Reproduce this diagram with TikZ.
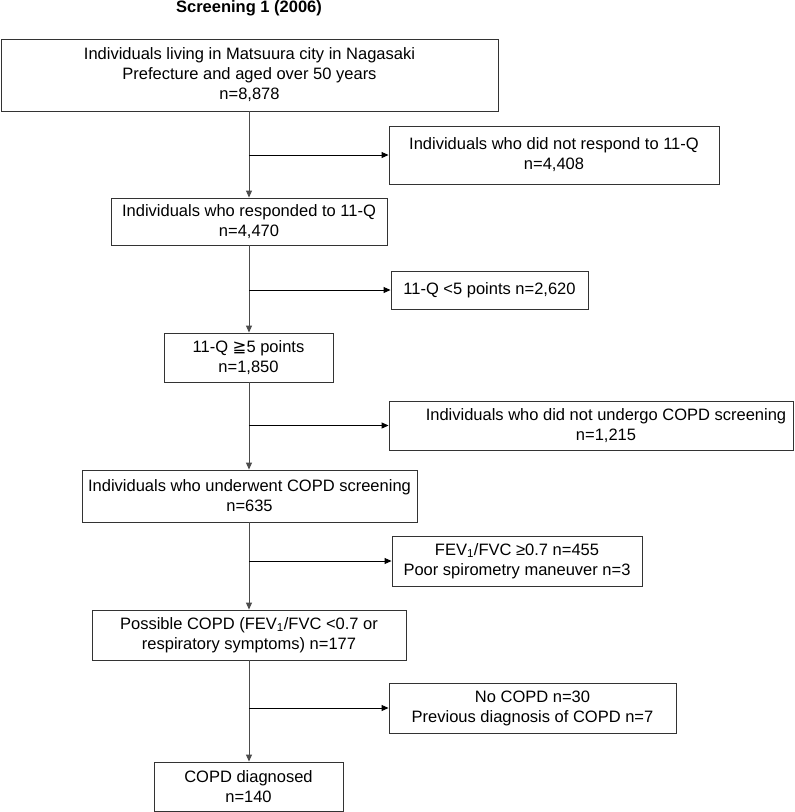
\documentclass[tikz,border=0pt]{standalone}
\usepackage{fontspec}
\setmainfont{Liberation Sans}
\newfontfamily\symfont{DejaVu Sans}
\usetikzlibrary{arrows.meta}
\begin{document}
\begin{tikzpicture}[x=1pt,y=-1pt,
  box/.style={draw=black!80,line width=0.9pt,inner sep=0pt,align=center,
    font=\fontsize{16.5}{20}\selectfont},
  txt/.style={inner sep=0pt,align=center,font=\fontsize{16.5}{20}\selectfont},
  vline/.style={draw=black!70,line width=0.9pt,-{Triangle[length=7pt,width=6pt]}},
  bline/.style={draw=black,line width=0.9pt,-{Triangle[length=7pt,width=6pt]}}]
\useasboundingbox (0,0) rectangle (795,812);
\node[txt,font=\fontsize{16.5}{20}\selectfont\bfseries] (title) at (249,8) {Screening 1 (2006)};
\node[box,minimum width=497pt,minimum height=72pt] (b1) at (249.5,75)
  {Individuals living in Matsuura city in Nagasaki\\Prefecture and aged over 50 years\\n=8,878};
\node[box,minimum width=330pt,minimum height=58pt] (r1) at (554,155)
  {Individuals who did not respond to 11-Q\\n=4,408};
\node[box,minimum width=276pt,minimum height=47pt] (b2) at (249,221.5)
  {Individuals who responded to 11-Q\\n=4,470};
\node[box,minimum width=197pt,minimum height=38pt] (r2) at (489.5,290)
  {11-Q <5 points n=2,620};
\node[box,minimum width=169pt,minimum height=49pt] (b3) at (248.5,357.5)
  {11-Q {\symfont ≧}5 points\\n=1,850};
\node[box,minimum width=404pt,minimum height=49pt] (r3) at (591,425.5) {};
\node[txt] (r3t) at (606,425.5)
  {Individuals who did not undergo COPD screening\\n=1,215};
\node[box,minimum width=335pt,minimum height=52pt] (b4) at (249.5,496)
  {Individuals who underwent COPD screening\\n=635};
\node[box,minimum width=250pt,minimum height=50pt] (r4) at (517,561)
  {FEV\textsubscript{1}/FVC ≥0.7 n=455\\Poor spirometry maneuver n=3};
\node[box,minimum width=314pt,minimum height=50pt] (b5) at (249,635)
  {Possible COPD (FEV\textsubscript{1}/FVC <0.7 or\\respiratory symptoms) n=177};
\node[box,minimum width=287pt,minimum height=50pt] (r5) at (532.5,708)
  {No COPD n=30\\Previous diagnosis of COPD n=7};
\node[box,minimum width=189pt,minimum height=49pt] (b6) at (248.5,786.5)
  {COPD diagnosed\\n=140};
\coordinate (mx) at (249,0);
\draw[vline] (b1.south -| mx) -- (b2.north -| mx);
\draw[vline] (b2.south -| mx) -- (b3.north -| mx);
\draw[vline] (b3.south -| mx) -- (b4.north -| mx);
\draw[vline] (b4.south -| mx) -- (b5.north -| mx);
\draw[vline] (b5.south -| mx) -- (b6.north -| mx);
\draw[bline] (r1.west -| mx) -- (r1.west);
\draw[bline] (r2.west -| mx) -- (r2.west);
\draw[bline] (r3.west -| mx) -- (r3.west);
\draw[bline] (r4.west -| mx) -- (r4.west);
\draw[bline] (r5.west -| mx) -- (r5.west);
\end{tikzpicture}
\end{document}
